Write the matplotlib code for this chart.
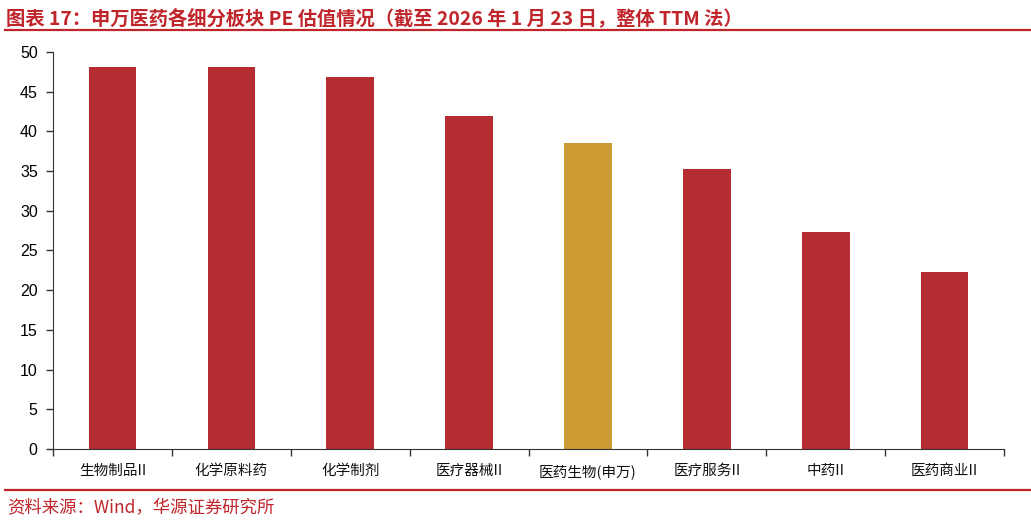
import matplotlib.pyplot as plt
from matplotlib.lines import Line2D

plt.rcParams["font.family"] = ["Noto Sans CJK SC", "DejaVu Sans"]

categories = ["生物制品II", "化学原料药", "化学制剂", "医疗器械II",
              "医药生物(申万)", "医疗服务II", "中药II", "医药商业II"]
pe_values = [48.1, 48.1, 46.85, 41.95, 38.5, 35.3, 27.3, 22.3]
highlight = "医药生物(申万)"

yticks = list(range(0, 51, 5))

RED = "#B52D33"
GOLD = "#CC9A32"
TITLE_RED = "#C0252B"

fig = plt.figure(figsize=(10.31, 5.24), dpi=100)
ax = fig.add_axes([0.0514, 0.1431, 0.9225, 0.7577])

colors = [GOLD if c == highlight else RED for c in categories]
x = list(range(len(categories)))
ax.bar(x, pe_values, width=0.4, color=colors)

ax.set_xlim(-0.5, len(categories) - 0.5)
ax.set_ylim(0, 50)
ax.set_yticks(yticks)
ax.set_yticklabels([str(t) for t in yticks], family="Liberation Sans", fontsize=11.5)

# category labels sit between the boundary ticks
ax.set_xticks([i + 0.5 for i in range(-1, len(categories))])
ax.set_xticklabels([])
ax.tick_params(axis="x", length=5, width=1, direction="out", color="#333333")
ax.tick_params(axis="y", length=5, width=1, direction="out", color="#333333", pad=6)
for i, c in enumerate(categories):
    ax.text(i, -1.9, c, ha="center", va="top", fontsize=10.5, color="#111111")

for side in ["top", "right"]:
    ax.spines[side].set_visible(False)
ax.spines["left"].set_color("#333333")
ax.spines["bottom"].set_color("#333333")

fig.text(0.006, 0.966, "图表 17：申万医药各细分板块 PE 估值情况（截至 2026 年 1 月 23 日，整体 TTM 法）",
         fontsize=13.9, fontweight="bold", color=TITLE_RED, ha="left", va="center")
fig.add_artist(Line2D([0.005, 1.0], [0.943, 0.943], color=TITLE_RED, lw=1.6))
fig.add_artist(Line2D([0.005, 1.0], [0.065, 0.065], color=TITLE_RED, lw=1.6))
fig.text(0.007, 0.030, "资料来源：Wind，华源证券研究所",
         fontsize=12.5, color=TITLE_RED, ha="left", va="center")

fig.savefig("out.png", dpi=100)
